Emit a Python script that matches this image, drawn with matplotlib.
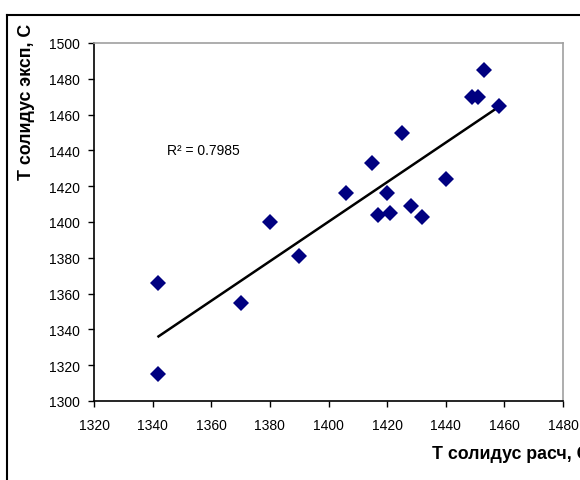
import numpy as np
import matplotlib
matplotlib.use('Agg')
import matplotlib.pyplot as plt
from matplotlib.lines import Line2D

plt.rcParams['font.family'] = ['Liberation Sans', 'DejaVu Sans']

t_calc = [1342, 1342, 1370, 1380, 1390, 1406, 1415, 1417, 1420, 1421, 1425,
          1428, 1432, 1440, 1449, 1451, 1453, 1458]
t_exp = [1366, 1315, 1355, 1400, 1381, 1416, 1433, 1404, 1416, 1405, 1450,
         1409, 1403, 1424, 1470, 1470, 1485, 1465]
r2_text = 'R\u00b2 = 0.7985'

fig = plt.figure(figsize=(5.8, 4.81), dpi=100)
ax = fig.add_axes([94/580, 1-402/481, (563-94)/580, (402-44)/481])

ax.plot(t_calc, t_exp, 'D', color='#000080', markersize=8, markeredgewidth=0, zorder=3)

# linear trend line
k, b = np.polyfit(t_calc, t_exp, 1)
xs = np.array([min(t_calc), max(t_calc)])
ax.plot(xs, k*xs + b, color='black', linewidth=1.8, zorder=2)

ax.text(1344.9, 1440.5, r2_text, fontsize=10, ha='left', va='center')

ax.set_xlim(1320, 1480)
ax.set_ylim(1300, 1500)
ax.set_xticks(range(1320, 1481, 20))
ax.set_yticks(range(1300, 1501, 20))
ax.tick_params(direction='out', length=4, width=1, labelsize=10)
ax.tick_params(axis='x', pad=8)
ax.tick_params(axis='y', pad=6)
for s in ['top', 'right']:
    ax.spines[s].set_color('#a0a0a0')
    ax.spines[s].set_linewidth(1.2)
for s in ['left', 'bottom']:
    ax.spines[s].set_linewidth(1.2)

fig.text(27/580, 1-102/481, 'Т солидус эксп, С', rotation=90, ha='center',
         va='center', fontsize=12.8, fontweight='bold')
fig.text(432/580, 1-455/481, 'Т солидус расч, С', ha='left', va='center',
         fontsize=12.8, fontweight='bold')

# outer chart frame (top and left edges visible)
fig.add_artist(Line2D([7/580, 1], [1-15.5/481, 1-15.5/481], color='black', linewidth=1.5))
fig.add_artist(Line2D([7/580, 7/580], [0, 1-15.5/481], color='black', linewidth=1.5))

fig.savefig('out.png', dpi=100)
